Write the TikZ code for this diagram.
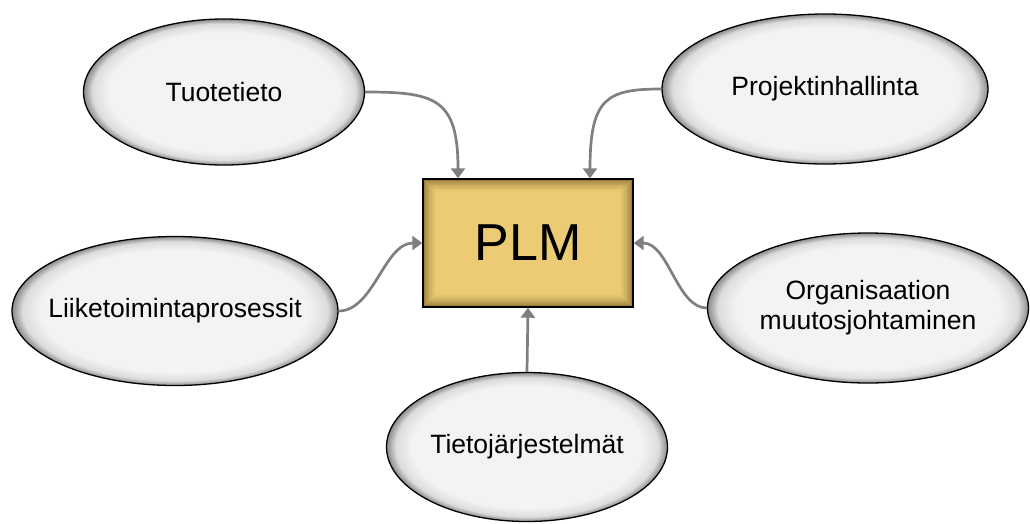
\documentclass[tikz,border=0pt]{standalone}
\usepackage{fontspec}
\setmainfont{Liberation Sans}
\usetikzlibrary{shapes.geometric,arrows.meta}

\definecolor{ellcore}{HTML}{F3F3F3}
\definecolor{ellmid}{HTML}{DCDCDC}
\definecolor{ellrim}{HTML}{8A8A8A}
\definecolor{plmin}{HTML}{EDCB74}
\definecolor{plmedge}{HTML}{7E6428}
\definecolor{linkgray}{HTML}{7F7F7F}

% soft inner shadow for the topic ellipses (the path edge sits at 25bp)
\pgfdeclareradialshading{ellshade}{\pgfpoint{0bp}{0bp}}{%
  color(0bp)=(ellcore);color(20.5bp)=(ellcore);color(23.4bp)=(ellmid);
  color(25bp)=(ellrim);color(50bp)=(ellrim)}

\tikzset{
  % negative horizontal sep keeps the ellipse at its minimum size for long labels
  topic/.style={ellipse, draw=black, line width=1.3pt, shade, shading=ellshade,
    inner xsep=-35pt, inner ysep=0pt, align=center,
    font=\fontsize{26.5}{30}\selectfont},
  plmbox/.style={rectangle, draw=black, line width=1.4pt, fill=plmedge,
    minimum width=210pt, minimum height=128pt, inner sep=0pt,
    font=\fontsize{52}{60}\selectfont,
    path picture={
      \foreach \i in {1,...,16}{
        \pgfmathsetmacro\p{100*sqrt(\i/16)}
        \fill[plmin!\p!plmedge]
          ([shift={(\i*0.8pt,-\i*0.8pt)}]path picture bounding box.north west) rectangle
          ([shift={(-\i*0.8pt,\i*0.8pt)}]path picture bounding box.south east);
      }}},
  link/.style={draw=linkgray, line width=2.7pt,
    -{Triangle[width=14pt,length=10pt]}}
}

\begin{document}
\begin{tikzpicture}[x=1pt,y=-1pt]
  \useasboundingbox (0,0) rectangle (1030,523);

  \node[plmbox] (plm) at (528,243) {PLM};

  \node[topic, minimum width=281pt, minimum height=146pt] (tuo) at (224,92) {Tuotetieto};
  \node[topic, minimum width=326pt, minimum height=150pt] (pro) at (825,89) {Projektinhallinta};
  \node[topic, minimum width=326pt, minimum height=149pt] (lii) at (175,311) {Liiketoimintaprosessit};
  \node[topic, minimum width=321pt, minimum height=150pt] (org) at (868,308) {Organisaation\\muutosjohtaminen};
  \node[topic, minimum width=281pt, minimum height=149pt] (tie) at (527,447) {Tietojärjestelmät};

  % end points on the PLM box
  \coordinate (inTuo) at ([xshift=-70pt]plm.north);
  \coordinate (inPro) at ([xshift=62pt]plm.north);

  \draw[link] (tuo.east) .. controls ++(70,0) and ++(0,-80) .. (inTuo);
  \draw[link] (pro.west) .. controls ++(-55,0) and ++(0,-80) .. (inPro);
  \draw[link] (lii.east) .. controls ++(35,0) and ++(-38,0) .. (plm.west);
  \draw[link] (org.west) .. controls ++(-30,0) and ++(35,0) .. (plm.east);
  \draw[link] (tie.north) -- (plm.south);
\end{tikzpicture}
\end{document}
